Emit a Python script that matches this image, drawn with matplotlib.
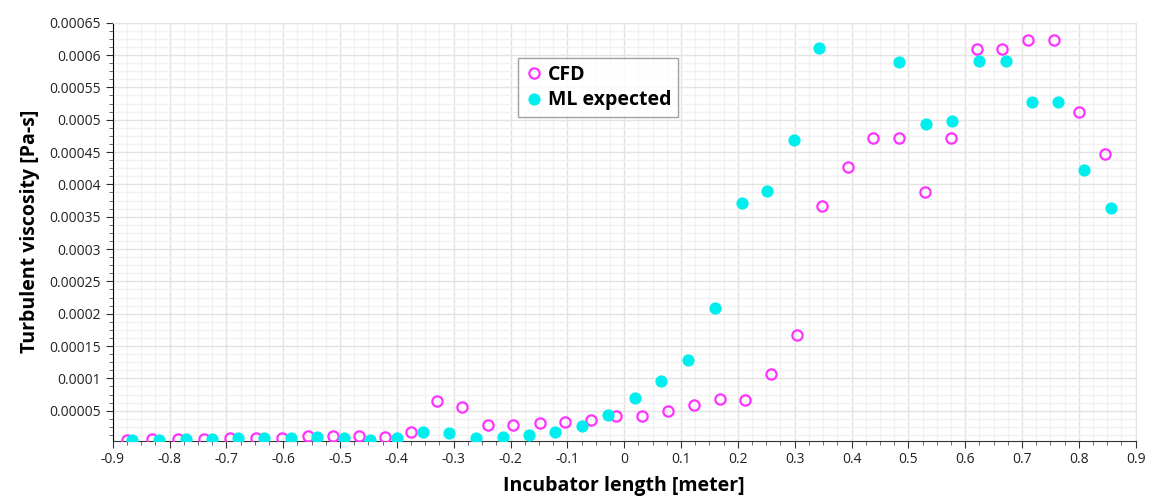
import numpy as np
import matplotlib.pyplot as plt
from matplotlib.ticker import MultipleLocator, AutoMinorLocator, FuncFormatter

plt.rcParams['font.family'] = ['Open Sans', 'DejaVu Sans']

# -------------------------
# Data
# -------------------------
cfd_x = [-0.875, -0.831, -0.785, -0.739, -0.694, -0.648, -0.602, -0.556, -0.512,
         -0.467, -0.421, -0.376, -0.330, -0.285, -0.240, -0.195, -0.149, -0.104,
         -0.059, -0.014, 0.032, 0.077, 0.123, 0.168, 0.213, 0.258, 0.304, 0.348,
         0.393, 0.438, 0.484, 0.529, 0.575, 0.620, 0.665, 0.710, 0.756, 0.801, 0.846]
cfd_y = [5.0e-6, 5.5e-6, 6.0e-6, 6.5e-6, 7.5e-6, 7.5e-6, 7.5e-6, 1.05e-5, 1.05e-5,
         1.05e-5, 9.5e-6, 1.66e-5, 6.5e-5, 5.53e-5, 2.83e-5, 2.83e-5, 3.05e-5, 3.21e-5,
         3.56e-5, 4.18e-5, 4.18e-5, 5.0e-5, 5.88e-5, 6.76e-5, 6.65e-5, 1.068e-4, 1.666e-4,
         3.666e-4, 4.274e-4, 4.713e-4, 4.72e-4, 3.878e-4, 4.713e-4, 6.09e-4, 6.09e-4,
         6.233e-4, 6.233e-4, 5.115e-4, 4.47e-4]

ml_x = [-0.866, -0.819, -0.771, -0.725, -0.680, -0.634, -0.586, -0.541, -0.493,
        -0.447, -0.400, -0.354, -0.308, -0.261, -0.214, -0.168, -0.121, -0.075,
        -0.028, 0.019, 0.065, 0.112, 0.159, 0.207, 0.252, 0.298, 0.343,
        0.484, 0.531, 0.577, 0.624, 0.671, 0.717, 0.763, 0.809, 0.856]
ml_y = [5.0e-6, 5.0e-6, 6.0e-6, 6.0e-6, 7.5e-6, 7.5e-6, 7.5e-6, 1.0e-5, 8.2e-6,
        4.7e-6, 7.3e-6, 1.66e-5, 1.5e-5, 7.3e-6, 9.8e-6, 1.24e-5, 1.66e-5, 2.68e-5,
        4.26e-5, 6.92e-5, 9.64e-5, 1.284e-4, 2.084e-4, 3.717e-4, 3.893e-4, 4.687e-4,
        6.114e-4, 5.888e-4, 4.939e-4, 4.98e-4, 5.908e-4, 5.908e-4, 5.279e-4, 5.279e-4,
        4.218e-4, 3.63e-4]

# -------------------------
# Figure
# -------------------------
fig = plt.figure(figsize=(11.49, 4.97), dpi=100)
ax = fig.add_axes([0.0981, 0.1133, 0.8903, 0.8410])

ax.plot(cfd_x, cfd_y, linestyle='none', marker='o', markersize=7.4,
        markerfacecolor='none', markeredgecolor='#ff33ff', markeredgewidth=1.6,
        label='CFD', zorder=3)
ax.plot(ml_x, ml_y, linestyle='none', marker='o', markersize=8.8,
        markerfacecolor='#00eeee', markeredgecolor='#00eeee', markeredgewidth=0,
        label='ML expected', zorder=4)

ax.set_xlim(-0.9, 0.9)
ax.set_ylim(3.6e-6, 0.00065)

ax.xaxis.set_major_locator(MultipleLocator(0.1))
ax.xaxis.set_minor_locator(AutoMinorLocator(4))
ax.yaxis.set_major_locator(MultipleLocator(0.00005))
ax.yaxis.set_minor_locator(AutoMinorLocator(4))


def fmt_x(v, pos):
    s = f"{v:.1f}"
    return "0" if s in ("0.0", "-0.0") else s


def fmt_y(v, pos):
    return f"{v:.5f}".rstrip('0').rstrip('.')


ax.xaxis.set_major_formatter(FuncFormatter(fmt_x))
ax.yaxis.set_major_formatter(FuncFormatter(fmt_y))

ax.grid(which='major', color='#e3e3e3', linewidth=1.0)
ax.grid(which='minor', color='#f2f2f2', linewidth=1.0)
ax.set_axisbelow(True)

for side in ('top', 'right'):
    ax.spines[side].set_color('#e3e3e3')
ax.spines['left'].set_color('black')
ax.spines['bottom'].set_color('#333333')

ax.tick_params(axis='both', which='major', labelsize=10, length=5,
               color='#333333', labelcolor='#222222')
ax.tick_params(axis='both', which='minor', length=3, color='#555555')

ax.set_xlabel("Incubator length [meter]", fontsize=14, fontweight='bold', labelpad=6)
ax.set_ylabel("Turbulent viscosity [Pa-s]", fontsize=14, fontweight='bold', labelpad=7)

leg = ax.legend(loc='upper left', bbox_to_anchor=(0.396, 0.916), fontsize=14,
                frameon=True, fancybox=False, edgecolor='#888888',
                handletextpad=0.2, handlelength=1.0, borderpad=0.35,
                labelspacing=0.3, borderaxespad=0)
for t in leg.get_texts():
    t.set_fontweight('bold')
leg.get_frame().set_linewidth(1.0)

plt.savefig("out.png", dpi=100)
